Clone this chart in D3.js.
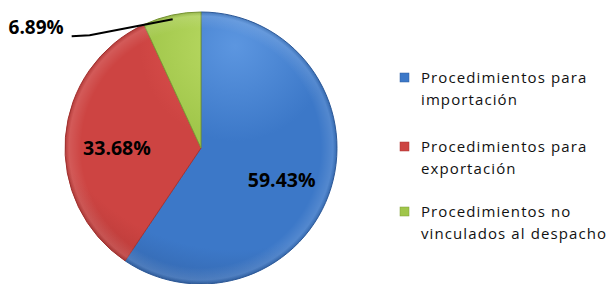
<!DOCTYPE html>
<meta charset="utf-8">
<script src="https://d3js.org/d3.v7.min.js"></script>
<style>
  body { margin: 0; background: #fff; }
</style>
<div id="chart"></div>
<script>
// data
var categories = ["Procedimientos para importación", "Procedimientos para exportación", "Procedimientos no vinculados al despacho"];
var legendLines = [["Procedimientos para", "importación"], ["Procedimientos para", "exportación"], ["Procedimientos no", "vinculados al despacho"]];
var values = [59.43, 33.68, 6.89];
var labels = ["59.43%", "33.68%", "6.89%"];
var colors = ["#3c78c8", "#cd4442", "#a0c64a"];
var lightColors = ["#5c96e0", "#e45a56", "#bcdc66"];
var darkColors = ["#2f5d9f", "#aa3331", "#7d9c36"];

var width = 611, height = 284;
var cx = 201, cy = 148, r = 136;

var svg = d3.select("#chart").append("svg")
  .attr("width", width)
  .attr("height", height);

// gradients are in the pie group's coordinates (origin = pie centre)
var defs = svg.append("defs");
colors.forEach(function(c, i) {
  var g = defs.append("radialGradient")
    .attr("id", "grad" + i)
    .attr("gradientUnits", "userSpaceOnUse")
    .attr("cx", r * 0.25).attr("cy", -r * 0.75)
    .attr("r", r * 2);
  g.append("stop").attr("offset", "0%").attr("stop-color", lightColors[i]);
  g.append("stop").attr("offset", "35%").attr("stop-color", c);
  g.append("stop").attr("offset", "75%").attr("stop-color", c);
  g.append("stop").attr("offset", "100%").attr("stop-color", darkColors[i]);
});
var rg = defs.append("radialGradient")
  .attr("id", "rim")
  .attr("gradientUnits", "userSpaceOnUse")
  .attr("cx", 0).attr("cy", 0).attr("r", r);
rg.append("stop").attr("offset", "88%").attr("stop-color", "#fff").attr("stop-opacity", 0);
rg.append("stop").attr("offset", "97%").attr("stop-color", "#fff").attr("stop-opacity", 0.12);
rg.append("stop").attr("offset", "100%").attr("stop-color", "#000").attr("stop-opacity", 0.12);

var pie = d3.pie().sort(null).value(function(d) { return d; });
var arcs = pie(values);
var arc = d3.arc().innerRadius(0).outerRadius(r);

var g = svg.append("g").attr("transform", "translate(" + cx + "," + cy + ")");

g.selectAll("path.slice")
  .data(arcs)
  .enter()
  .append("path")
    .attr("class", "slice")
    .attr("d", arc)
    .style("fill", function(d, i) { return "url(#grad" + i + ")"; })
    .style("stroke", function(d, i) { return darkColors[i]; })
    .style("stroke-width", 1);

g.append("circle")
  .attr("r", r)
  .style("fill", "url(#rim)");

// inside labels
var labelArc = d3.arc().innerRadius(r * 0.62).outerRadius(r * 0.62);
g.selectAll("text.inlabel")
  .data(arcs.slice(0, 2))
  .enter()
  .append("text")
    .attr("class", "inlabel")
    .attr("x", function(d) { return labelArc.centroid(d)[0]; })
    .attr("y", function(d) { return labelArc.centroid(d)[1] + 14; })
    .attr("text-anchor", "middle")
    .style("font-family", "'Open Sans', sans-serif")
    .style("font-weight", "bold")
    .style("font-size", "19.5px")
    .text(function(d, i) { return labels[i]; });

// outside label with leader line
var small = arcs[2];
var mid = (small.startAngle + small.endAngle) / 2;
var p1 = [Math.sin(mid) * r * 0.97, -Math.cos(mid) * r * 0.97];
var p2 = [p1[0] - 83, p1[1] + 16];
var p3 = [p2[0] - 18, p2[1] + 1];
g.append("path")
  .attr("d", d3.line()([p1, p2, p3]))
  .style("fill", "none")
  .style("stroke", "#000")
  .style("stroke-width", 2);
g.append("text")
  .attr("x", p3[0] - 8)
  .attr("y", p3[1] - 2)
  .attr("text-anchor", "end")
  .style("font-family", "'Open Sans', sans-serif")
  .style("font-weight", "bold")
  .style("font-size", "19px")
  .text(labels[2]);

// legend
var legend = svg.append("g").attr("transform", "translate(400,0)");
var rowY = [83, 152, 217];
categories.forEach(function(c, i) {
  var row = legend.append("g").attr("transform", "translate(0," + rowY[i] + ")");
  row.append("rect")
    .attr("x", 0).attr("y", -10)
    .attr("width", 9).attr("height", 9)
    .style("fill", colors[i])
    .style("stroke", darkColors[i])
    .style("stroke-width", 0.5);
  legendLines[i].forEach(function(line, j) {
    row.append("text")
      .attr("x", 21)
      .attr("y", j * 22)
      .style("font-family", "'Open Sans', sans-serif")
      .style("font-size", "15px")
      .style("letter-spacing", "1.1px")
      .style("fill", "#111")
      .text(line);
  });
});
</script>
